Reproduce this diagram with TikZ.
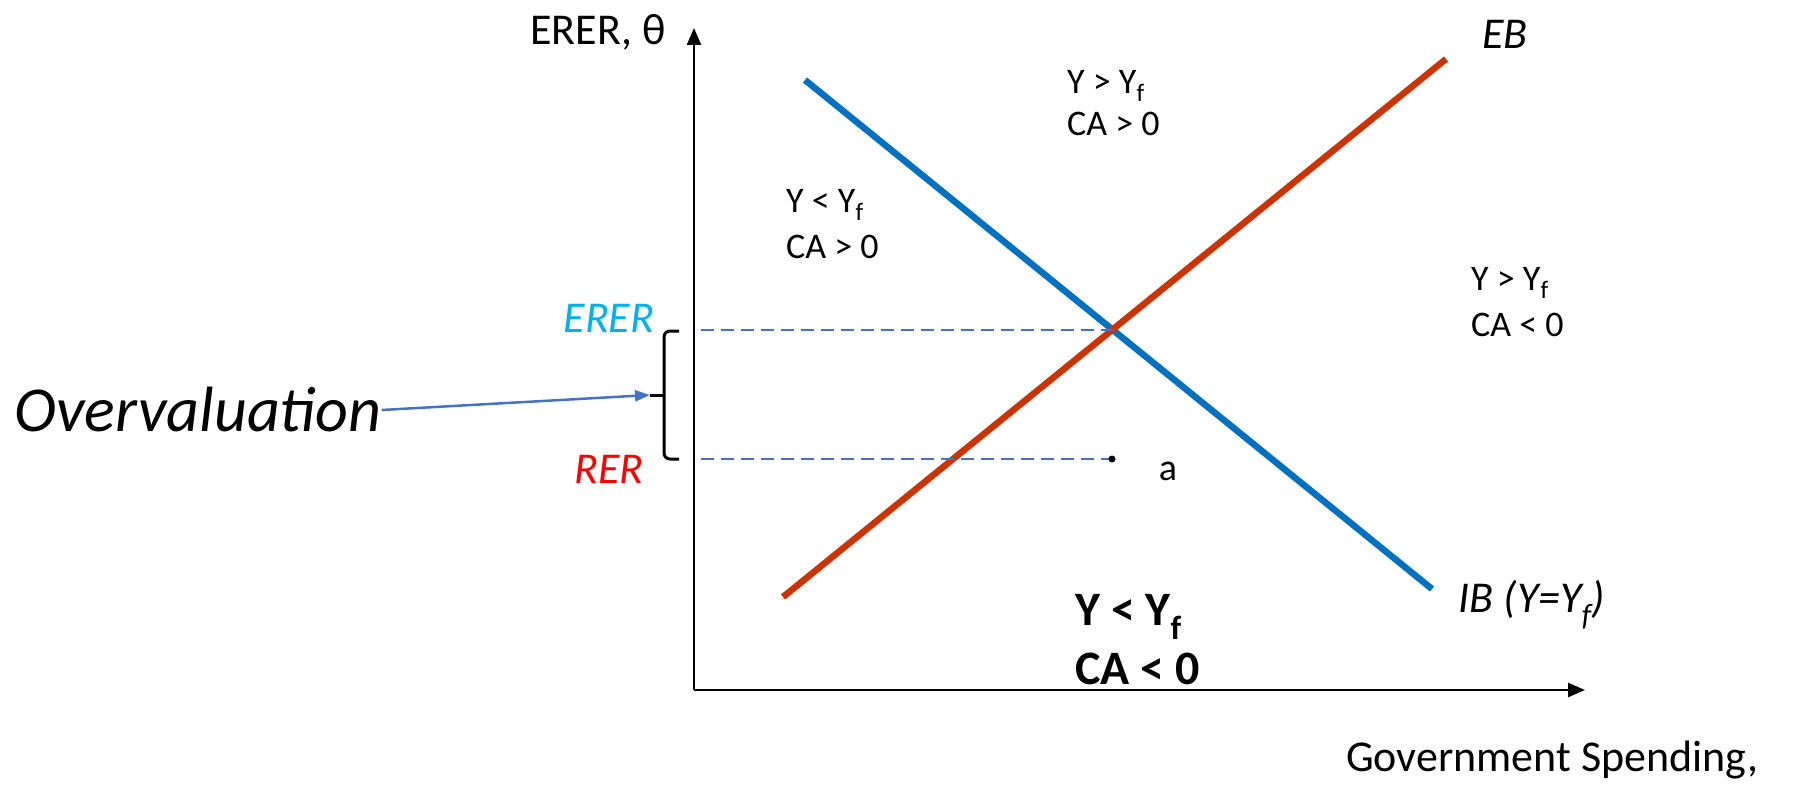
\documentclass[tikz,border=0pt]{standalone}
\usepackage{fontspec}
\setmainfont{Carlito}
\usetikzlibrary{arrows.meta}
\definecolor{ibblue}{HTML}{0070C0}
\definecolor{ebred}{HTML}{CC3300}
\definecolor{guideblue}{HTML}{4472C4}
\definecolor{erercyan}{HTML}{00B0F0}
\definecolor{rerred}{HTML}{FF0000}
\begin{document}
\begin{tikzpicture}[x=1pt,y=-1pt,
  axis/.style={line width=2.5pt,-{Triangle[length=17pt,width=14pt]}},
  curve/.style={line width=6.5pt},
  guide/.style={guideblue,line width=2.5pt,dash pattern=on 13pt off 7pt},
  lbl/.style={inner sep=0pt,font=\fontsize{44}{50}\selectfont},
  region/.style={inner sep=0pt,anchor=west,font=\fontsize{36}{38}\selectfont},
  bregion/.style={inner sep=0pt,anchor=west,font=\bfseries\fontsize{48}{51}\selectfont}]
\useasboundingbox (0,0) rectangle (1801,789);
% axes
\coordinate (O) at (694,690);
\coordinate (ytop) at (694,28);
\coordinate (xend) at (1585,690);
\draw[axis] (O) -- (ytop);
\draw[axis] (O) -- (xend);
% curves
\coordinate (ib1) at (805,80);
\coordinate (ib2) at (1432,589);
\coordinate (eb1) at (783,597);
\coordinate (eb2) at (1446,59);
\draw[curve,ibblue] (ib1) -- (ib2);
\draw[curve,ebred] (eb1) -- (eb2);
% guides
\coordinate (E) at (1112.5,330);
\coordinate (ereraxis) at (701,330);
\coordinate (reraxis) at (701,459);
\coordinate (pa) at (1112,459);
\draw[guide] (ereraxis) -- (E);
\draw[guide] (reraxis) -- (pa);
\fill (pa) circle (3.5pt);
% bracket
\coordinate (brt) at (679,331);
\coordinate (brb) at (679,459);
\coordinate (bm) at (664,395);
\coordinate (bt) at (650,395);
\draw[line width=3pt,rounded corners=6pt] (brt) -- (664,331) -- (664,459) -- (brb);
\draw[line width=3pt] (bm) -- (bt);
% labels
\node[lbl] (ylab) at (598,32) {ERER, θ};
\node[lbl,font=\itshape\fontsize{44}{50}\selectfont,erercyan] (ererl) at (609,318) {ERER};
\node[lbl,font=\itshape\fontsize{44}{50}\selectfont,rerred] (rerl) at (609,469) {RER};
\node[inner sep=0pt,font=\itshape\fontsize{64}{70}\selectfont] (ov) at (198,410) {Overvaluation};
\draw[guideblue,line width=2.5pt,-{Triangle[length=15pt,width=11pt]}] (ov.east) -- (bt);
\node[lbl,font=\itshape\fontsize{44}{50}\selectfont] (ebl) at (1505,34) {EB};
\node[lbl,font=\itshape\fontsize{44}{50}\selectfont] (ibl) at (1532,605) {IB (Y=Y\textsubscript{f})};
\node[inner sep=0pt,font=\fontsize{38}{40}\selectfont] (al) at (1168,471) {a};
\node[region] (r1a) at (1067,86) {Y > Y\textsubscript{f}};
\node[region] (r1b) at (1067,124) {CA > 0};
\node[region] (r2a) at (786,205) {Y < Y\textsubscript{f}};
\node[region] (r2b) at (786,247) {CA > 0};
\node[region] (r3a) at (1471,283) {Y > Y\textsubscript{f}};
\node[region] (r3b) at (1471,325) {CA < 0};
\node[bregion] (r4a) at (1075,617) {Y < Y\textsubscript{f}};
\node[bregion] (r4b) at (1075,669) {CA < 0};
\node[lbl,anchor=west] (xlab) at (1346,760) {Government Spending,};
\end{tikzpicture}
\end{document}
